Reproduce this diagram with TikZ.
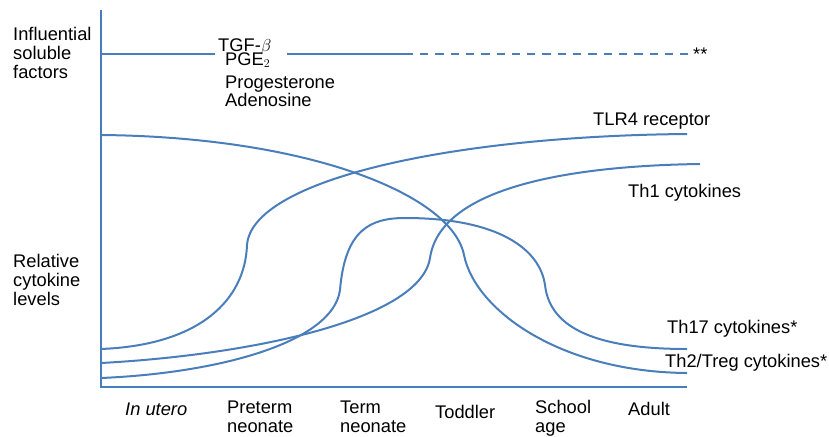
\documentclass[tikz,border=0pt]{standalone}
\usepackage{fontspec}
\setmainfont{Liberation Sans}
\usepackage{tikz}

\definecolor{curveblue}{HTML}{4A7EBB}
\tikzset{
  curve/.style={draw=curveblue, line width=2pt},
  lbl/.style={anchor=base west, inner sep=0pt, font=\fontsize{18.3}{18.6}\selectfont, align=left},
}

\begin{document}
\begin{tikzpicture}[x=1pt, y=-1pt]
    \useasboundingbox (0,0) rectangle (829,436);
    % axes
    \coordinate (top) at (101,10);
    \coordinate (orig) at (101,387);
    \coordinate (xend) at (687,387);
    \draw[curve] (top) -- (orig) -- (xend);
    % soluble factors line
    \draw[curve] (101,54) -- (215,54);
    \draw[curve] (287,54) -- (413,54);
    \draw[curve, dash pattern=on 8.3pt off 7pt] (420,54) -- (688,54);
    % curves
    \draw[curve] (101,135) .. controls (310,137) and (452,195) .. (464,255)
        .. controls (475,310) and (560,372) .. (687,373);
    \draw[curve] (101,349) .. controls (200,345) and (245,300) .. (247,245)
        .. controls (252,180) and (450,136) .. (687,134);
    \draw[curve] (101,363) .. controls (250,355) and (420,320) .. (430,258)
        .. controls (440,190) and (560,166) .. (700,164);
    \draw[curve] (101,378) .. controls (220,373) and (333,342) .. (340,290)
        .. controls (345,230) and (370,218) .. (405,218)
        .. controls (500,218) and (540,250) .. (545,285)
        .. controls (550,330) and (600,349) .. (687,349);
    % y labels
    \node[lbl] (infl) at (13,78) {Influential\\soluble\\factors};
    \node[lbl] (rel) at (13,305) {Relative\\cytokine\\levels};
    % factors
    \node[lbl] (tgf) at (218,52) {TGF-$\beta$};
    \node[lbl] (pge) at (225,65) {PGE$_2$};
    \node[lbl] (prog) at (225,88) {Progesterone};
    \node[lbl] (aden) at (225,106) {Adenosine};
    \node[lbl] (stars) at (693,60) {**};
    % curve labels
    \node[lbl] (tlr) at (593,125) {TLR4 receptor};
    \node[lbl] (th1) at (628,197) {Th1 cytokines};
    \node[lbl] (th17) at (667,333) {Th17 cytokines*};
    \node[lbl] (th2) at (665,367) {Th2/Treg cytokines*};
    % x labels
    \node[lbl] (utero) at (125,415) {\itshape In utero};
    \node[lbl] (pre) at (227,432) {Preterm\\neonate};
    \node[lbl] (term) at (340,432) {Term\\neonate};
    \node[lbl] (todd) at (435,418) {Toddler};
    \node[lbl] (school) at (535,432) {School\\age};
    \node[lbl] (adult) at (628,415) {Adult};
\end{tikzpicture}
\end{document}
